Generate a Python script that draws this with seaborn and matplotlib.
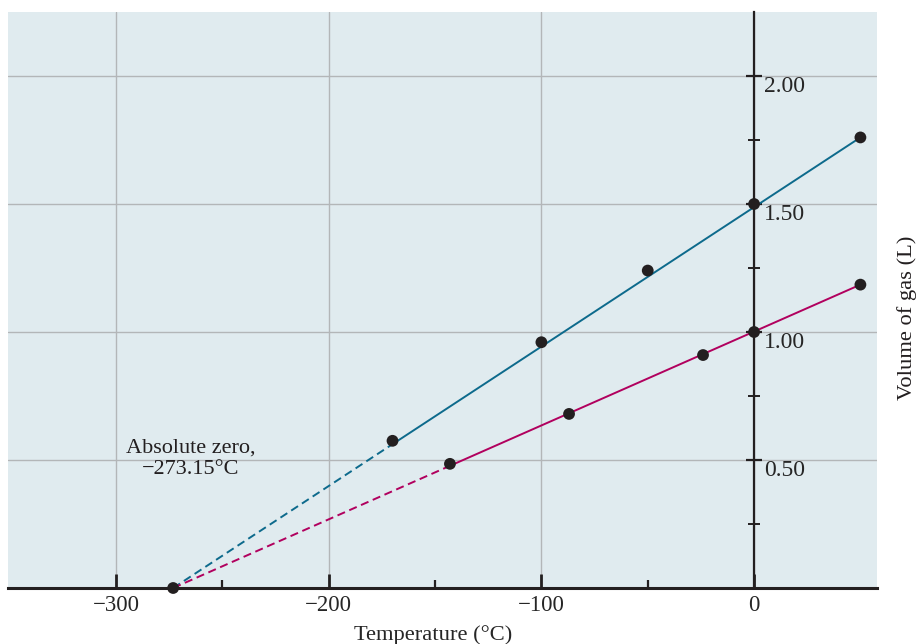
import numpy as np
import matplotlib.pyplot as plt
import matplotlib.transforms as mtransforms
import seaborn as sns

# values
absolute_zero = -273.15
blue_temps = [-170, -100, -50, 0, 50]
blue_vols = [0.575, 0.96, 1.24, 1.50, 1.76]
red_temps = [-143, -87, -24, 0, 50]
red_vols = [0.485, 0.68, 0.91, 1.00, 1.185]

x_ticks = [-300, -200, -100, 0]
x_minor = [-250, -150, -50]
x_labels = ['\u2212300', '\u2212200', '\u2212100', '0']
y_ticks = [0.5, 1.0, 1.5, 2.0]
y_minor = [0.25, 0.75, 1.25, 1.75]
y_labels = ['0.50', '1.00', '1.50', '2.00']

blue = '#0d6a8c'
red = '#b1005e'
ink = '#231f20'

sns.set_theme(style='white', rc={'axes.facecolor': '#e0ebef'})
plt.rcParams['font.family'] = ['Liberation Serif', 'DejaVu Serif']
plt.rcParams['text.color'] = ink

fig = plt.figure(figsize=(9.19, 6.44), dpi=100)
ax = fig.add_axes([8 / 919, 56 / 644, 869 / 919, 576 / 644])


def draw_series(temps, vols, color):
    # straight line through absolute zero and the last measured point
    slope = vols[-1] / (temps[-1] - absolute_zero)
    dash_x = np.array([absolute_zero, temps[0]])
    solid_x = np.array([temps[0], temps[-1]])
    sns.lineplot(x=dash_x, y=slope * (dash_x - absolute_zero), ax=ax, color=color,
                 linewidth=1.4, linestyle=(0, (4.2, 2.4)), zorder=3)
    sns.lineplot(x=solid_x, y=slope * (solid_x - absolute_zero), ax=ax, color=color,
                 linewidth=1.4, zorder=3)
    sns.scatterplot(x=temps, y=vols, ax=ax, color=ink, s=72,
                    edgecolor='none', zorder=5)


draw_series(blue_temps, blue_vols, blue)
draw_series(red_temps, red_vols, red)
sns.scatterplot(x=[absolute_zero], y=[0], ax=ax, color=ink, s=72,
                edgecolor='none', zorder=6, clip_on=False)

ax.set_xlim(-350.8, 57.8)
ax.set_ylim(0, 2.25)

# spines: bottom axis plus a vertical axis at 0 C
ax.spines['top'].set_visible(False)
ax.spines['left'].set_visible(False)
ax.spines['right'].set_position(('data', 0))
ax.spines['right'].set_color(ink)
ax.spines['right'].set_linewidth(1.6)
ax.spines['bottom'].set_color(ink)
ax.spines['bottom'].set_linewidth(2.2)
ax.yaxis.tick_right()

ax.set_xticks(x_ticks)
ax.set_xticks(x_minor, minor=True)
ax.set_xticklabels(x_labels)
ax.set_yticks(y_ticks)
ax.set_yticks(y_minor, minor=True)
ax.set_yticklabels(y_labels)
# y labels sit a little below their ticks
shift = mtransforms.ScaledTranslation(0, -3 / 72, fig.dpi_scale_trans)
for lbl in ax.get_yticklabels():
    lbl.set_verticalalignment('top')
    lbl.set_transform(lbl.get_transform() + shift)

ax.tick_params(axis='x', which='major', direction='in', length=10, width=2,
               color=ink, labelsize=16.5, pad=5, bottom=True)
ax.tick_params(axis='x', which='minor', direction='in', length=6, width=1.6,
               color=ink, bottom=True)
ax.tick_params(axis='y', which='major', direction='inout', length=12, width=1.6,
               color=ink, labelsize=17, pad=1, right=True)
ax.tick_params(axis='y', which='minor', direction='inout', length=8, width=1.4,
               color=ink, right=True)

ax.grid(True, which='major', color='#b3b6b8', linewidth=1)
ax.set_axisbelow(True)

ax.text(-265, 0.585, 'Absolute zero,\n\u2212273.15\u00b0C', ha='center', va='top',
        fontsize=16, linespacing=1.2)

ax.set_xlabel('Temperature (\u00b0C)', fontsize=16.2)
ax.xaxis.set_label_coords(0.489, -0.064)
ax.set_ylabel('')
fig.text(907 / 919, 1 - 318 / 644, 'Volume of gas (L)', rotation=90,
         ha='center', va='center', fontsize=16.2)

fig.savefig('out.png', dpi=100)
